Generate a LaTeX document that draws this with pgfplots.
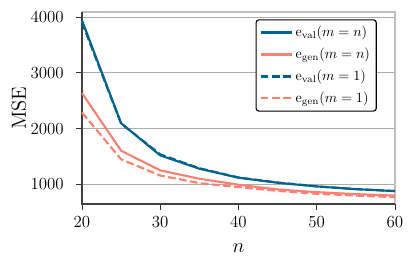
\documentclass[border=0pt]{standalone}
\usepackage{pgfplots}
\pgfplotsset{compat=1.18}
\definecolor{cblue}{HTML}{00628F}
\definecolor{csalmon}{HTML}{FA8072}
\begin{document}
\begin{tikzpicture}
\useasboundingbox (-58.2pt,-44.7pt) rectangle (236.4pt,144.8pt);
\begin{axis}[
  at={(0,0)}, anchor=south west,
  width=222.2pt, height=136.3pt, scale only axis,
  xmin=20, xmax=60, ymin=650, ymax=4090,
  xtick={20,30,40,50,60}, ytick={1000,2000,3000,4000},
  ymajorgrids, grid style={black!32, line width=0.6pt},
  tick align=outside, tick pos=left,
  major tick length=4.2pt,
  axis line style={draw=none},
  tick style={black!80, line width=0.6pt},
  ticklabel style={font=\fontsize{12.5}{14}\selectfont},
  yticklabel style={anchor=east, inner sep=0pt, xshift=-8.6pt},
  xticklabel style={anchor=north, inner sep=0pt, yshift=-4.3pt},
  xlabel={$n$}, ylabel={MSE},
  label style={font=\fontsize{14.5}{17}\selectfont},
  xlabel style={at={(axis description cs:0.5,-0.232)}, anchor=center},
  ylabel style={at={(axis description cs:-0.2013,0.5)}, anchor=center},
  scaled ticks=false,
  y tick label style={/pgf/number format/1000 sep={}},
  legend style={at={(0.942,0.962)}, anchor=north east, draw=black, line width=0.8pt, rounded corners=2pt, font=\fontsize{10}{12}\selectfont, row sep=2.6pt, inner sep=2.5pt},
  legend cell align=left,
  legend image code/.code={\draw[#1] (0cm,0cm) -- (22pt,0cm);},
  clip=false,
]
\draw[black!25, line width=0.8pt] (rel axis cs:0,1) -- (rel axis cs:1,1) -- (rel axis cs:1,0);
\draw[black!75, line width=0.8pt] (rel axis cs:0,1) -- (rel axis cs:0,0) -- (rel axis cs:1,0);
\addplot[cblue, line width=1.5pt] coordinates {(20,3940) (25,2097) (30,1520) (35,1282) (40,1120) (45,1030) (50,964) (55,915) (60,880)};
\addlegendentry{$\mathrm{e}_{\mathrm{val}}(m=n)$}
\addplot[csalmon, line width=1.5pt] coordinates {(20,2637) (25,1604) (30,1252) (35,1102) (40,995) (45,910) (50,862) (55,826) (60,800)};
\addlegendentry{$\mathrm{e}_{\mathrm{gen}}(m=n)$}
\addplot[cblue, line width=1.5pt, dash pattern=on 5.5pt off 2.4pt] coordinates {(20,3900) (25,2090) (30,1540) (35,1290) (40,1125) (45,1035) (50,966) (55,917) (60,882)};
\addlegendentry{$\mathrm{e}_{\mathrm{val}}(m=1)$}
\addplot[csalmon, line width=1.5pt, dash pattern=on 5.5pt off 2.4pt] coordinates {(20,2288) (25,1450) (30,1160) (35,1023) (40,952) (45,885) (50,833) (55,800) (60,772)};
\addlegendentry{$\mathrm{e}_{\mathrm{gen}}(m=1)$}
\end{axis}
\end{tikzpicture}
\end{document}
